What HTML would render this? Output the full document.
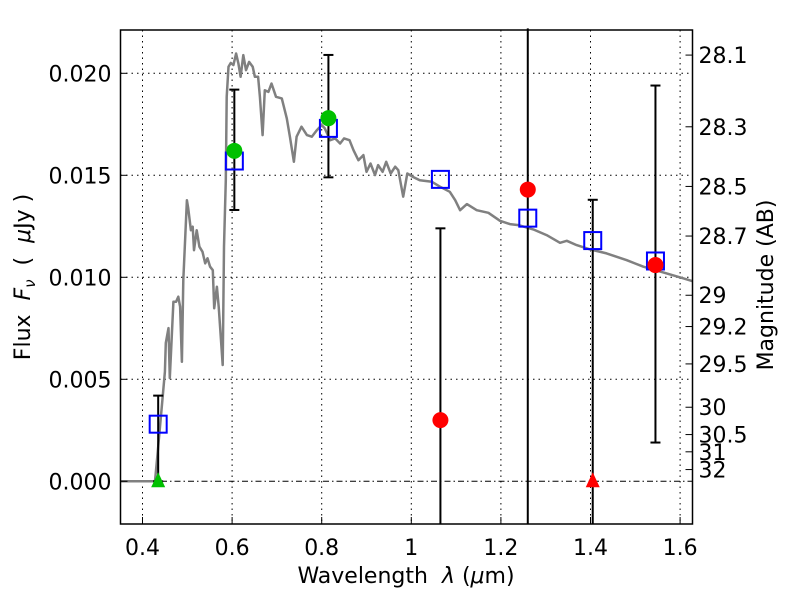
<!DOCTYPE html>
<html><head><meta charset="utf-8"><style>
body{margin:0;background:#fff}
svg text{font-family:"DejaVu Sans","Liberation Sans",sans-serif;fill:#000}
</style></head><body>
<svg id="chart" width="800" height="600" xmlns="http://www.w3.org/2000/svg">
<rect width="800" height="600" fill="#fff"/>
<g id="grid"></g><g id="sed"></g><g id="marks"></g><g id="axes"></g>
</svg>
<script>
const sedLam=[0.352,0.428,0.433,0.443,0.450,0.452,0.458,0.461,0.469,0.475,0.480,0.484,0.488,0.491,0.499,0.502,0.508,0.512,0.515,0.521,0.527,0.534,0.540,0.545,0.551,0.557,0.560,0.566,0.570,0.579,0.582,0.586,0.588,0.592,0.597,0.603,0.609,0.614,0.619,0.625,0.631,0.638,0.646,0.651,0.658,0.662,0.668,0.673,0.681,0.688,0.698,0.711,0.722,0.729,0.738,0.744,0.755,0.767,0.778,0.789,0.800,0.807,0.819,0.830,0.841,0.850,0.862,0.871,0.882,0.893,0.900,0.909,0.919,0.926,0.936,0.944,0.954,0.964,0.971,0.982,0.991,1.003,1.019,1.046,1.064,1.086,1.098,1.109,1.124,1.146,1.172,1.198,1.220,1.239,1.272,1.302,1.332,1.347,1.369,1.399,1.436,1.481,1.518,1.570,1.607,1.628];
const sedFlux=[0,0,0.00121,0.00366,0.00537,0.00678,0.00751,0.00506,0.00880,0.00880,0.00905,0.00856,0.00586,0.00986,0.01378,0.01339,0.01231,0.01248,0.01133,0.01231,0.01150,0.01125,0.01068,0.01093,0.01052,0.01035,0.00848,0.00954,0.00856,0.00570,0.01150,0.01476,0.01885,0.02032,0.02051,0.02040,0.02097,0.02048,0.01983,0.02089,0.02015,0.02056,0.02032,0.01983,0.01983,0.01885,0.01697,0.01917,0.01909,0.01950,0.01885,0.01877,0.01779,0.01689,0.01566,0.01689,0.01738,0.01697,0.01689,0.01721,0.01746,0.01730,0.01672,0.01681,0.01656,0.01681,0.01672,0.01623,0.01574,0.01599,0.01517,0.01558,0.01501,0.01550,0.01517,0.01566,0.01509,0.01542,0.01525,0.01395,0.01509,0.01493,0.01476,0.01468,0.01444,0.01419,0.01378,0.01329,0.01359,0.01329,0.01316,0.01277,0.01261,0.01256,0.01235,0.01207,0.01169,0.01179,0.01158,0.01137,0.01117,0.01084,0.01052,0.01019,0.00995,0.00981];
const bandLam=[0.435,0.605,0.815,1.065,1.26,1.405,1.545];
const obsFlux=[0,0.0162,0.0178,0.0030,0.0143,0,0.0106];
const obsType=['tri','circ','circ','circ','circ','tri','circ'];
const obsColor=['#00c000','#00c000','#00c000','#ff0000','#ff0000','#ff0000','#ff0000'];
const errLo=[0,0.0133,0.0149,-0.005,-0.005,-0.005,0.0019];
const errHi=[0.0042,0.0192,0.0209,0.0124,0.03,0.0138,0.0194];
const modelFlux=[0.0028,0.0157,0.0173,0.0148,0.0129,0.0118,0.0108];
const xTicks=[0.4,0.6,0.8,1.0,1.2,1.4,1.6];
const xTickLabels=['0.4','0.6','0.8','1','1.2','1.4','1.6'];
const yTicks=[0,0.005,0.010,0.015,0.020];
const yTickLabels=['0.000','0.005','0.010','0.015','0.020'];
const magTicks=[28.1,28.3,28.5,28.7,29,29.2,29.5,30,30.5,31,32];
const magLabels=['28.1','28.3','28.5','28.7','29','29.2','29.5','30','30.5','31','32'];

const L=120.5,R=692.5,T=30,B=524;
const xs=v=>142.5+(v-0.4)*448;
const ys=v=>481.3-v*20400;
const NS='http://www.w3.org/2000/svg';
function mk(tag,attrs,parent){const e=document.createElementNS(NS,tag);for(const k in attrs)e.setAttribute(k,attrs[k]);document.getElementById(parent).appendChild(e);return e;}

xTicks.forEach((t,i)=>{
 const g=mk('line',{x1:xs(t),x2:xs(t),y1:T,y2:B,stroke:'#000','stroke-width':1,'stroke-dasharray':'1.5,4'},'grid');
 
 
 const tk=mk('line',{x1:xs(t),x2:xs(t),y1:B,y2:B-7,stroke:'#000','stroke-width':1},'axes');
 
 
 const tx=mk('text',{x:xs(t),y:B+31,'font-size':22,'text-anchor':'middle'},'axes');
 tx.textContent=xTickLabels[i];
 
 
});
yTicks.forEach((t,i)=>{
 const g=mk('line',{x1:L,x2:R,y1:ys(t),y2:ys(t),stroke:'#000','stroke-width':1,'stroke-dasharray':t===0?'6,3,1.5,3':'1.5,4'},'grid');
 
 
 const tk=mk('line',{x1:L,x2:L+7,y1:ys(t),y2:ys(t),stroke:'#000','stroke-width':1},'axes');
 
 
 const tx=mk('text',{x:L-9,y:ys(t)+8,'font-size':22,'text-anchor':'end'},'axes');
 tx.textContent=yTickLabels[i];
 
 
});
magTicks.forEach((m,i)=>{
 const f=Math.pow(10,(23.9-m)/2.5);
 const tk=mk('line',{x1:R,x2:R-7,y1:ys(f),y2:ys(f),stroke:'#000','stroke-width':1},'axes');
 
 
 const tx=mk('text',{x:R+6,y:ys(f)+8,'font-size':22},'axes');
 tx.textContent=magLabels[i];
 
 
});

const d=sedLam.map((l,i)=>(i?'L':'M')+xs(l).toFixed(1)+','+ys(sedFlux[i]).toFixed(1)).join(' ');
const sp=mk('path',{d:d,fill:'none',stroke:'#808080','stroke-width':2.5,'stroke-linejoin':'round'},'sed');



bandLam.forEach((l,i)=>{
 const x=xs(l);
 const y1=ys(Math.max(errLo[i],-0.0021)),y2=ys(Math.min(errHi[i],0.0222));
 const e=mk('line',{x1:x,x2:x,y1:y1,y2:y2,stroke:'#000','stroke-width':2},'marks');
 
 
 [errLo[i],errHi[i]].forEach(v=>{ if(v>-0.0021&&v<0.0222){
  const c=mk('line',{x1:x-5,x2:x+5,y1:ys(v),y2:ys(v),stroke:'#000','stroke-width':2},'marks');
  
  }});
 const sq=mk('rect',{x:x-8.5,y:ys(modelFlux[i])-8.5,width:17,height:17,fill:'none',stroke:'#0000ff','stroke-width':2},'marks');
 
 
});
bandLam.forEach((l,i)=>{
 const x=xs(l),y=ys(obsFlux[i]);
 let m;
 if(obsType[i]==='circ') m=mk('circle',{cx:x,cy:y,r:8,fill:obsColor[i]},'marks');
 else m=mk('polygon',{points:`${x},${y-9} ${x-7},${y+6} ${x+7},${y+6}`,fill:obsColor[i]},'marks');
 
 
});
</script>
<svg style="position:absolute;left:0;top:0" width="800" height="600">
<rect x="120.5" y="30" width="572" height="494" fill="none" stroke="#000" stroke-width="1.5"/>
<text x="406" y="583" font-size="22" text-anchor="middle" font-family="DejaVu Sans, Liberation Sans, sans-serif" xml:space="preserve">Wavelength  <tspan font-style="italic">λ</tspan> (<tspan font-style="italic">μ</tspan>m)</text>
<text transform="translate(30,277) rotate(-90)" font-size="22" text-anchor="middle" font-family="DejaVu Sans, Liberation Sans, sans-serif" xml:space="preserve">Flux  <tspan font-style="italic">F</tspan><tspan font-style="italic" font-size="15" dy="5">ν</tspan><tspan dy="-5">  (  </tspan><tspan font-style="italic">μ</tspan>Jy )</text>
<text transform="translate(773,285) rotate(-90)" font-size="22" text-anchor="middle" font-family="DejaVu Sans, Liberation Sans, sans-serif">Magnitude (AB)</text>
</svg>
</body></html>
